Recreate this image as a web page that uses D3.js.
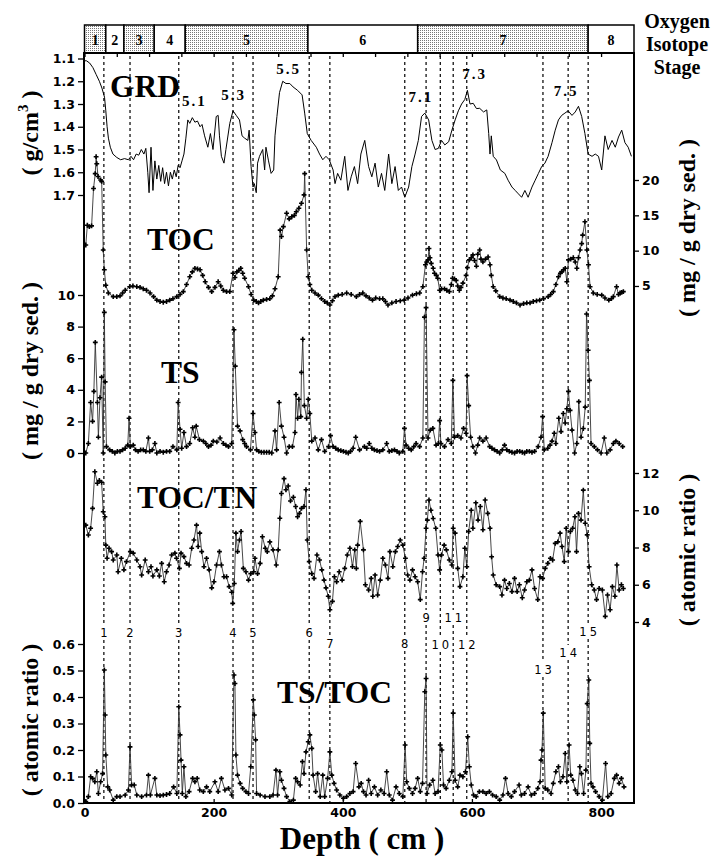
<!DOCTYPE html>
<html>
<head>
<meta charset="utf-8">
<script src="https://cdn.jsdelivr.net/npm/d3@7"></script>
<style>
  body { margin: 0; background: #fff; }
</style>
</head>
<body>
<svg id="chart" width="716" height="856"></svg>
<script>
// oxygen isotope stages (depth boundaries in cm)
const stageNames = ['1', '2', '3', '4', '5', '6', '7', '8'];
const stageBounds = [0, 33, 61, 108, 156, 346, 516, 780, 851];
const stageShaded = [true, false, true, false, true, false, true, false];

// numbered event horizons (dotted lines)
const eventNames = ['1','2','3','4','5','6','7','8','9','10','11','12','13','14','15'];
const eventDepths = [30, 70.5, 146, 230, 261, 348, 380, 496, 529, 551, 571, 592, 710, 749, 780];

// substage labels on the GRD curve: [depth, grd]
const subStageNames = ['5.1', '5.3', '5.5', '7.1', '7.3', '7.5'];
const subStagePos = [[170, 1.309], [231, 1.282], [316, 1.168], [521, 1.291], [604, 1.19], [746, 1.265]];

const xTicks = [0, 200, 400, 600, 800];
const grdTicks = [1.1, 1.2, 1.3, 1.4, 1.5, 1.6, 1.7];
const tocTicks = [5, 10, 15, 20];
const tsTicks = [0, 2, 4, 6, 8, 10];
const tntTicks = [4, 6, 8, 10, 12];
const ratioTicks = [0, 0.1, 0.2, 0.3, 0.4, 0.5, 0.6];

// GRD (g/cm3) : [depth, value]
const grd = [[0,1.11],[3,1.11],[8,1.12],[13,1.14],[18,1.17],[23,1.20],[27,1.23],[31,1.27],[33,1.33],[35,1.40],[37,1.45],[40,1.49],[44,1.52],[50,1.535],[56,1.545],[62,1.54],[68,1.545],[72,1.53],[76,1.545],[80,1.52],[84,1.525],[88,1.50],[92,1.52],[95,1.495],[98,1.60],[100,1.69],[103,1.49],[106,1.68],[109,1.55],[112,1.63],[115,1.57],[118,1.64],[121,1.58],[124,1.65],[127,1.60],[130,1.66],[133,1.60],[136,1.63],[139,1.59],[142,1.62],[145,1.57],[148,1.58],[151,1.55],[154,1.52],[157,1.45],[160,1.37],[163,1.385],[167,1.36],[171,1.38],[175,1.375],[179,1.40],[182,1.39],[186,1.44],[191,1.49],[195,1.43],[199,1.50],[204,1.355],[207,1.35],[209,1.44],[212,1.53],[216,1.56],[219,1.50],[225,1.385],[230,1.33],[235,1.35],[240,1.37],[244,1.44],[248,1.45],[253,1.46],[255,1.415],[258,1.575],[261,1.665],[263,1.65],[266,1.69],[268,1.56],[271,1.53],[276,1.50],[279,1.59],[281,1.49],[285,1.55],[289,1.605],[293,1.59],[295,1.44],[298,1.355],[302,1.25],[307,1.20],[312,1.21],[318,1.21],[323,1.225],[330,1.24],[337,1.26],[341,1.34],[345,1.43],[351,1.46],[359,1.49],[364,1.52],[369,1.545],[374,1.53],[379,1.545],[385,1.59],[388,1.65],[392,1.605],[397,1.635],[403,1.53],[408,1.68],[413,1.62],[418,1.575],[423,1.65],[428,1.52],[434,1.46],[440,1.575],[445,1.62],[450,1.56],[455,1.665],[460,1.605],[465,1.68],[471,1.52],[476,1.65],[481,1.575],[486,1.68],[491,1.665],[496,1.71],[502,1.665],[507,1.575],[512,1.52],[517,1.46],[522,1.355],[527,1.34],[533,1.37],[538,1.46],[543,1.50],[548,1.495],[553,1.46],[558,1.48],[564,1.466],[569,1.415],[574,1.37],[579,1.33],[584,1.30],[589,1.28],[593,1.24],[597,1.30],[602,1.297],[607,1.32],[612,1.319],[618,1.335],[623,1.326],[626,1.43],[628,1.52],[630,1.44],[633,1.53],[638,1.546],[644,1.59],[651,1.605],[656,1.635],[662,1.665],[667,1.68],[672,1.695],[677,1.71],[682,1.68],[687,1.71],[693,1.665],[698,1.635],[703,1.605],[708,1.575],[713,1.56],[718,1.53],[724,1.47],[729,1.415],[734,1.37],[739,1.35],[744,1.34],[749,1.33],[755,1.35],[760,1.335],[765,1.31],[770,1.355],[775,1.43],[780,1.52],[786,1.53],[791,1.52],[796,1.53],[801,1.59],[806,1.44],[811,1.50],[817,1.46],[822,1.49],[827,1.445],[832,1.415],[837,1.47],[842,1.49],[847,1.53]];

// TOC (mg/g dry sed.)
const toc = [[2,10.8],[4.4,13.6],[7.5,13.4],[11,13.5],[14,18.8],[16.6,20.9],[18,23.3],[19,22.3],[21,20.5],[25,20.0],[26.6,19.8],[29,10.1],[30.7,7.3],[33,5.1],[37,4.0],[44.5,3.5],[50,3.5],[55,3.6],[59,4.0],[63,4.4],[70,4.9],[75,5.0],[81,4.9],[86,4.8],[91,4.6],[96,4.4],[101.5,4.0],[107,3.5],[112,3.0],[117,2.8],[122,2.7],[127,2.8],[132,3.0],[137,3.2],[143,3.5],[148,3.8],[153,4.2],[158,5.2],[163,6.3],[167,7.0],[171,7.5],[175,7.4],[179,7.3],[183,6.5],[187,5.6],[192,4.8],[197,4.2],[202,4.8],[207,5.6],[211,5.0],[215,4.4],[220,4.2],[225,4.2],[230,6.8],[233,6.2],[236,7.0],[239,7.2],[242,7.5],[245,6.8],[248,6.1],[254,4.9],[258,3.8],[262,3.0],[266,2.8],[269.5,2.6],[273,2.8],[277,3.0],[282,3.1],[287,3.2],[291,3.6],[295,4.6],[300,6.3],[303,12.9],[305,12.0],[308,13.4],[313,15.3],[317,14.5],[321,14.8],[325,15.0],[328,15.5],[332,16.0],[336,16.7],[340,17.9],[341,20.9],[344,10.1],[346.5,6.3],[349,5.2],[352,4.4],[357,4.0],[362,3.7],[367,3.2],[372,2.8],[376,2.6],[380,2.3],[384,2.9],[388,3.5],[393,3.7],[399,3.8],[406,4.0],[413,3.8],[421,3.5],[426,3.8],[431,4.0],[436,3.6],[441,3.3],[446,3.0],[451,3.3],[457,3.2],[462,3.2],[466,2.8],[470,2.3],[476,2.6],[482.5,2.8],[489,2.9],[495,3.0],[501,3.3],[508,3.7],[514,3.9],[519,4.0],[524,4.9],[528,8.0],[530,8.4],[532,8.7],[533.5,10.3],[535,9.0],[537,8.2],[540,7.5],[542,6.8],[545,6.5],[547,6.1],[550,4.4],[553,4.6],[557.5,4.6],[561,4.4],[565,4.2],[568,5.2],[570,6.1],[573,6.0],[575.5,5.8],[578,5.0],[580.5,4.4],[583,4.8],[586,5.4],[591,6.5],[593,7.6],[596,8.7],[599,9.0],[601.5,9.4],[604,8.6],[607,7.8],[609,9.5],[612,10.1],[614,8.8],[617,8.4],[621,8.8],[625,9.1],[628,8.0],[630,6.5],[633,4.9],[637,4.3],[643,3.5],[648,3.3],[653,3.2],[659,3.0],[664,2.8],[669,2.6],[674.5,2.3],[680,2.5],[685,2.6],[690,2.6],[695,2.8],[700,2.9],[705,3.0],[711,3.2],[718,3.5],[722,3.8],[726,4.2],[730,5.2],[734,6.3],[737,6.8],[739,7.0],[742,7.3],[744.5,7.5],[747,5.6],[749.5,8.7],[753,8.8],[757,9.0],[760,8.4],[762.5,7.5],[765,9.0],[767.5,10.1],[770,11.0],[771.5,12.2],[775,14.1],[778,10.1],[780.5,8.0],[783,4.9],[788,4.0],[794,3.8],[801,3.7],[806,3.3],[812,3.0],[816,3.2],[819,3.5],[824,4.9],[827,3.8],[829.5,4.0],[832,4.1],[834.5,4.2]];

// TS (mg/g dry sed.)
const ts = [[2,0.0],[6,0.6],[9.5,3.2],[12.5,2.0],[14.5,3.9],[16.7,7.0],[20,3.2],[21.5,1.0],[24,3.5],[26.5,4.8],[29,0.0],[30.7,8.9],[32,4.5],[34,0.4],[39,0.2],[43,0.1],[47,0.0],[51,0.1],[55,0.1],[59,0.2],[63,0.3],[67,0.5],[69,2.2],[71,0.4],[75.5,0.5],[79,0.2],[83,0.1],[87,0.2],[91,0.2],[95,0.1],[99,0.95],[101,0.1],[105,0.2],[109,0.6],[112,0.0],[117,0.1],[122,0.05],[127,0.1],[132,0.1],[137,0.4],[143,0.2],[145,3.2],[148,1.5],[150.5,0.3],[154,1.3],[158,0.4],[163,0.6],[167.5,1.6],[171,1.0],[173,1.7],[178,0.85],[184,0.75],[188,0.6],[192,0.4],[196,0.5],[199.5,0.75],[205,0.7],[210,0.95],[215,0.6],[219,0.5],[223,0.4],[228,0.6],[231.5,7.8],[233.5,5.5],[237,1.7],[241,1.4],[245,0.85],[248,0.6],[251,0.4],[257,0.2],[261,2.5],[264,1.3],[266.5,0.2],[270,0.1],[274,0.05],[278,0.05],[282,0.05],[286,0.05],[290,0.0],[295,1.4],[297.5,0.2],[301.5,3.2],[305,1.7],[309,1.0],[313,0.0],[317,0.4],[322,0.4],[326,1.3],[327.5,3.7],[330,2.2],[332,3.4],[335,2.3],[336,5.1],[338,7.2],[340.5,3.0],[344,2.2],[346.5,3.4],[349,2.5],[352,0.75],[357,0.95],[362,0.2],[367,0.85],[372,0.1],[378,0.4],[381,1.1],[385,0.4],[389,0.3],[393,0.2],[397,0.15],[401,0.1],[405,0.05],[408.5,0.0],[412,0.1],[416,0.3],[420,1.0],[426,0.2],[433.5,0.4],[437,0.3],[441,0.6],[445,0.3],[449,0.2],[453,0.15],[457,0.1],[462,0.2],[468,0.6],[472,0.1],[476,0.15],[480,0.2],[484,0.1],[487.5,0.0],[493,0.1],[495.5,1.56],[498,0.5],[502,0.3],[506,0.2],[510,0.4],[513.5,0.6],[519,0.4],[524,0.95],[526.5,8.6],[529,9.2],[532,0.95],[535.5,1.45],[539.5,1.56],[544.5,0.5],[548,0.6],[550,2.05],[552,0.6],[557.5,0.4],[563,0.85],[568,0.6],[570.5,4.6],[573,1.0],[578,1.1],[583,0.95],[587,1.56],[591,1.25],[592.5,4.9],[595,3.0],[598,1.0],[601.5,0.4],[605.5,0.0],[609,0.5],[612,0.95],[617,0.75],[622,0.95],[627.5,0.4],[631,0.3],[635,0.2],[639,0.1],[643,0.0],[647,0.2],[650.5,0.5],[654,0.2],[658,0.1],[662,0.05],[666,0.0],[670,0.1],[674,0.1],[678,0.05],[681.5,0.0],[685,0.1],[689,0.1],[693,0.05],[697,0.1],[702.5,0.4],[707,1.0],[709.5,2.3],[712,0.2],[717.5,0.3],[721,0.5],[724,0.75],[727.5,1.25],[730,0.6],[734.5,2.2],[738,1.35],[741.5,2.5],[744.5,1.9],[747,2.8],[749.5,3.9],[752,2.7],[755,1.45],[759,0.0],[762.5,0.6],[765.5,3.25],[769,1.0],[772.5,1.55],[775.5,2.9],[777.5,8.8],[780,6.5],[782,4.6],[784.5,0.6],[789.5,0.4],[794.5,0.2],[800,0.0],[805,0.95],[809,0.0],[814,0.2],[819,0.6],[823,0.75],[828,0.6],[833.5,0.4]];

// TOC/TN (atomic ratio)
const tocTn = [[2,9.2],[6,8.67],[9.5,9.03],[12.5,10.1],[16,12.07],[20,11.45],[23,11.6],[26.5,11.5],[29,9.92],[31.6,9.65],[33,8.13],[35,7.42],[38,7.96],[42,7.78],[44.5,7.33],[50,7.6],[52,6.7],[57,7.42],[61,6.8],[65,7.24],[71,7.78],[75.5,7.7],[81,7.33],[86,6.97],[88.5,6.52],[94,7.33],[99,6.7],[103,6.97],[106,6.47],[112,6.8],[116,6.47],[119.5,7.15],[123.5,6.16],[127,6.7],[131,7.06],[135,7.6],[140,7.7],[142.5,7.42],[147,6.88],[149.5,7.7],[154,7.51],[158,7.15],[162,7.06],[166,7.96],[169.5,8.4],[173.5,9.2],[176,8.05],[178.5,8.77],[181.5,7.78],[185,6.97],[189,7.42],[193,6.8],[197,5.83],[200.5,6.16],[204.5,7.06],[209,7.78],[212,7.06],[216,6.43],[220,6.43],[224,5.9],[228,5.6],[229.5,5.0],[232,6.07],[234.5,8.77],[237,7.78],[240,8.4],[242.5,8.86],[246,6.88],[250,6.7],[254,6.25],[257.5,6.6],[262,6.7],[264,7.42],[268,6.6],[272,7.15],[275.5,8.58],[280,7.96],[283,7.78],[287,8.3],[292,7.87],[297,7.06],[300,7.87],[302.5,9.57],[305,10.9],[309,11.7],[312,11.1],[315.5,11.3],[319,10.5],[323.5,10.7],[327,10.2],[330,9.65],[333,9.83],[336,10.1],[340,10.2],[343,11.1],[345,8.4],[348,7.24],[352,6.6],[355.5,6.34],[360,7.6],[364,7.33],[367.5,6.8],[371,6.25],[374,5.83],[377.5,5.38],[380,4.66],[384,5.11],[387,6.43],[390.5,6.16],[394.5,6.7],[399,6.25],[403,6.88],[407,7.6],[411,7.96],[415,6.97],[418.5,7.87],[421,6.88],[423,8.13],[427,9.4],[432,7.87],[435,6.0],[440,5.72],[444,6.34],[446.5,5.38],[450,6.52],[454,5.45],[458,6.25],[462,7.42],[466,7.06],[470,6.34],[473,7.78],[477.5,6.97],[481.5,7.78],[485,8.05],[489,8.4],[493,8.13],[497,7.42],[500.5,6.52],[504,6.25],[508,6.8],[512,6.43],[516,6.16],[520,5.2],[523.5,6.7],[526,7.42],[529,9.03],[531,9.47],[533.5,10.55],[536.5,10.0],[540,9.56],[544,9.03],[547.5,7.6],[550,6.8],[553,7.6],[557,8.13],[560.5,7.87],[565,7.33],[569,7.06],[571,9.03],[574,8.77],[578,6.88],[581.5,5.9],[586,6.43],[589,7.96],[592,6.97],[595,8.86],[599,10.0],[601.5,9.03],[606,10.4],[609.5,9.47],[613,10.2],[617,8.95],[620.5,10.55],[624.5,9.83],[628,9.03],[630.5,7.5],[633,6.52],[637.5,6.0],[643,5.9],[646.5,5.45],[650.5,6.25],[654,5.8],[658,6.07],[662,5.63],[666,6.34],[670,5.63],[673.5,6.0],[678,5.3],[681.5,5.72],[685,6.16],[689,6.25],[693,6.8],[697,5.8],[702,5.2],[705.5,6.43],[709.5,6.34],[713.5,6.88],[717.5,7.15],[721.5,7.42],[725,7.33],[729,8.22],[733,8.3],[736.5,8.77],[739.5,8.05],[743,7.24],[746,9.03],[749.5,7.78],[752.5,8.86],[756,9.03],[759.5,9.65],[762,7.78],[765,9.83],[769,9.47],[772.5,11.08],[775.5,9.3],[778.5,8.68],[781.5,6.97],[785.5,6.0],[789.5,5.72],[793,5.2],[797,5.8],[802,5.72],[806.5,4.3],[810,5.45],[814,4.66],[817.5,5.9],[821.5,5.38],[824.5,7.06],[828,5.72],[831.5,6.0],[834.5,5.8]];

// TS/TOC (atomic ratio)
const tsToc = [[2,0.005],[6,0.024],[9.5,0.099],[12.5,0.093],[16,0.080],[19,0.118],[21.5,0.036],[25,0.080],[28,0.111],[30.7,0.502],[32,0.332],[33,0.181],[36,0.061],[39,0.049],[44.5,0.011],[50,0.024],[55,0.024],[63,0.030],[68,0.049],[70.5,0.212],[73,0.068],[77,0.068],[81,0.030],[88.5,0.024],[96,0.030],[99,0.105],[102,0.030],[109,0.093],[112,0.030],[117,0.028],[122,0.030],[127,0.032],[132,0.036],[138,0.061],[143,0.036],[146,0.363],[148,0.257],[149.5,0.162],[151.5,0.036],[154,0.137],[157,0.024],[162,0.043],[167.5,0.093],[171,0.080],[174.5,0.093],[178.5,0.049],[184,0.043],[189,0.061],[194,0.043],[202,0.080],[207,0.043],[212,0.093],[217.5,0.049],[223,0.055],[228,0.030],[231.5,0.483],[233,0.451],[234.5,0.181],[237,0.105],[241,0.074],[245,0.055],[250,0.043],[254,0.036],[257.5,0.137],[261.5,0.389],[263,0.332],[265,0.238],[266.5,0.036],[272,0.030],[279.5,0.024],[287,0.024],[292,0.030],[296.5,0.124],[299,0.030],[302.5,0.118],[305,0.086],[309,0.055],[313,0.024],[318,0.005],[323.5,0.011],[327,0.093],[330,0.080],[334,0.068],[337.5,0.156],[340,0.111],[343,0.193],[346.5,0.231],[349,0.257],[352,0.206],[354,0.105],[358,0.043],[361,0.111],[365,0.024],[369,0.105],[372,0.024],[376.5,0.093],[380,0.193],[383,0.105],[386.5,0.074],[390.5,0.049],[395.5,0.030],[401,0.018],[406,0.024],[411,0.036],[416,0.043],[420,0.149],[425,0.061],[428.5,0.074],[432,0.043],[436,0.030],[440,0.086],[444,0.036],[449,0.061],[454,0.030],[459,0.049],[464,0.036],[468,0.118],[472,0.030],[477,0.011],[482.5,0.061],[487.5,0.036],[493,0.024],[496.5,0.219],[499,0.080],[503,0.055],[508,0.036],[512,0.055],[516,0.093],[520,0.043],[523.5,0.074],[527,0.420],[529,0.470],[530.5,0.036],[534.5,0.068],[539.5,0.086],[543,0.036],[547.5,0.043],[551,0.219],[553.5,0.200],[556,0.068],[560,0.055],[565,0.086],[569,0.118],[571,0.339],[574,0.086],[578,0.061],[581.5,0.105],[586,0.099],[590,0.118],[593.5,0.250],[596,0.137],[599,0.068],[602.5,0.030],[606.5,0.024],[611.5,0.043],[617,0.043],[622,0.036],[627,0.043],[632,0.030],[637.5,0.024],[643,0.011],[648,0.030],[652,0.093],[656,0.036],[661,0.024],[666,0.043],[673,0.068],[676.5,0.030],[681.5,0.036],[687,0.061],[692,0.030],[697,0.036],[702,0.055],[705.5,0.080],[707,0.162],[708.5,0.200],[710.5,0.339],[713.5,0.055],[717.5,0.049],[722.5,0.036],[726,0.074],[730,0.118],[734,0.137],[737,0.080],[741,0.099],[744.5,0.187],[747,0.080],[750.5,0.219],[753,0.105],[756.5,0.086],[760,0.049],[763.5,0.036],[767,0.137],[769.5,0.111],[773,0.036],[776.5,0.124],[778.5,0.375],[781,0.464],[782.5,0.225],[784.5,0.074],[787.5,0.061],[791.5,0.043],[797,0.024],[802,0.011],[807,0.149],[810.5,0.024],[815.5,0.036],[820.5,0.093],[824,0.105],[828,0.074],[831.5,0.093],[835.5,0.061]];

const svg = d3.select('#chart');
const serif = '"Liberation Serif", "Times New Roman", serif';
const sans = '"DejaVu Sans", Arial, sans-serif';

const plotLeft = 84, plotRight = 634, plotTop = 53, plotBottom = 803;
const x = d3.scaleLinear().domain([0, 851]).range([84.5, 634]);
const yGrd = d3.scaleLinear().domain([1.1, 1.7]).range([58.5, 195]);
const yToc = d3.scaleLinear().domain([0, 20]).range([321.3, 180]);
const yTs = d3.scaleLinear().domain([0, 10]).range([453, 295]);
const yTn = d3.scaleLinear().domain([4, 12]).range([622, 473]);
const yRatio = d3.scaleLinear().domain([0, 0.6]).range([803, 644]);

// stipple pattern for the shaded stages
const pat = svg.append('defs').append('pattern')
  .attr('id', 'stipple').attr('width', 2).attr('height', 2)
  .attr('patternUnits', 'userSpaceOnUse');
pat.append('rect').attr('width', 2).attr('height', 2).attr('fill', '#fff');
pat.append('rect').attr('width', 1).attr('height', 1).attr('fill', '#777');

// stage bar
const stages = stageNames.map((n, i) => ({ name: n, x0: stageBounds[i], x1: stageBounds[i + 1], shaded: stageShaded[i] }));
const sg = svg.append('g');
sg.selectAll('rect').data(stages).join('rect')
  .attr('x', d => x(d.x0)).attr('width', d => x(d.x1) - x(d.x0))
  .attr('y', 25).attr('height', plotTop - 25)
  .attr('fill', d => d.shaded ? 'url(#stipple)' : '#fff')
  .attr('stroke', '#000').attr('stroke-width', 1.5);
sg.selectAll('text').data(stages).join('text')
  .attr('x', d => (x(d.x0) + x(d.x1)) / 2).attr('y', 45)
  .attr('text-anchor', 'middle')
  .attr('font-family', serif).attr('font-weight', 'bold').attr('font-size', 14)
  .text(d => d.name);

const ois = svg.append('text').attr('text-anchor', 'middle')
  .attr('font-family', serif).attr('font-weight', 'bold').attr('font-size', 20);
['Oxygen', 'Isotope', 'Stage'].forEach((t, i) => {
  ois.append('tspan').attr('x', 677).attr('y', 28 + i * 23).text(t);
});

// event lines with their numbers
const labelBase = [637, 637, 637, 637, 637, 637, 648, 648, 622, 649, 622, 649, 674, 657, 636];
const ev = eventDepths.map((d, i) => ({ d, name: eventNames[i], base: labelBase[i] }));
const eg = svg.append('g')
  .attr('stroke', '#000').attr('stroke-width', 1.2).attr('stroke-dasharray', '3,3');
eg.selectAll('line.a').data(ev).join('line').attr('class', 'a')
  .attr('x1', d => x(d.d)).attr('x2', d => x(d.d))
  .attr('y1', 56).attr('y2', d => d.base - 12);
eg.selectAll('line.b').data(ev).join('line').attr('class', 'b')
  .attr('x1', d => x(d.d)).attr('x2', d => x(d.d))
  .attr('y1', d => d.base + 3).attr('y2', plotBottom);
svg.append('g').selectAll('text').data(ev).join('text')
  .attr('x', d => x(d.d) + (d.name.length > 1 ? 1.5 : 0)).attr('y', d => d.base)
  .attr('text-anchor', 'middle')
  .attr('font-family', sans).attr('font-size', 11.5)
  .attr('letter-spacing', d => d.name.length > 1 ? 3 : 0)
  .text(d => d.name);

// substage labels
svg.append('g').selectAll('text').data(subStageNames).join('text')
  .attr('x', (d, i) => x(subStagePos[i][0])).attr('y', (d, i) => yGrd(subStagePos[i][1]))
  .attr('text-anchor', 'middle')
  .attr('font-family', serif).attr('font-weight', 'bold').attr('font-size', 15)
  .attr('letter-spacing', 2)
  .text(d => d);

// series
function drawSeries(data, y, markers) {
  const line = d3.line().x(d => x(d[0])).y(d => y(d[1]));
  svg.append('path').datum(data)
    .attr('d', line).attr('fill', 'none')
    .attr('stroke', markers ? '#333' : '#000')
    .attr('stroke-width', markers ? 0.9 : 1)
    .attr('stroke-linejoin', 'round');
  if (markers) {
    svg.append('g').selectAll('path').data(data).join('path')
      .attr('transform', d => `translate(${x(d[0])},${y(d[1])})`)
      .attr('d', d3.symbol().type(d3.symbolCross).size(13))
      .attr('fill', '#000');
  }
}
drawSeries(grd, yGrd, false);
drawSeries(toc, yToc, true);
drawSeries(ts, yTs, true);
drawSeries(tocTn, yTn, true);
drawSeries(tsToc, yRatio, true);

// frame
svg.append('rect')
  .attr('x', plotLeft).attr('y', plotTop)
  .attr('width', plotRight - plotLeft).attr('height', plotBottom - plotTop)
  .attr('fill', 'none').attr('stroke', '#000').attr('stroke-width', 2);

// axes
function styleAxis(g) {
  g.select('.domain').remove();
  g.selectAll('line').attr('stroke', '#000').attr('stroke-width', 1.3);
  g.selectAll('text').attr('font-family', sans).attr('font-weight', 'bold')
    .attr('font-size', 12.5).attr('fill', '#000');
}
function leftAxis(scale, ticks, fmt) {
  svg.append('g').attr('transform', `translate(${plotLeft},0)`)
    .call(d3.axisLeft(scale).tickValues(ticks).tickFormat(fmt).tickSize(6).tickPadding(3))
    .call(styleAxis);
}
function rightAxis(scale, ticks, fmt) {
  svg.append('g').attr('transform', `translate(${plotRight},0)`)
    .call(d3.axisRight(scale).tickValues(ticks).tickFormat(fmt).tickSize(5).tickPadding(3))
    .call(styleAxis);
}
leftAxis(yGrd, grdTicks, d3.format('.1f'));
rightAxis(yToc, tocTicks, d3.format('d'));
leftAxis(yTs, tsTicks, d3.format('d'));
rightAxis(yTn, tntTicks, d3.format('d'));
leftAxis(yRatio, ratioTicks, d3.format('.1f'));

svg.append('g').attr('transform', `translate(0,${plotBottom})`)
  .call(d3.axisBottom(x).tickValues(xTicks).tickFormat(d3.format('d')).tickSize(-4).tickPadding(5))
  .call(styleAxis);
svg.append('g').attr('transform', `translate(0,${plotTop})`)
  .call(d3.axisTop(x).tickValues(d3.range(0, 851, 50)).tickFormat('').tickSize(-4))
  .call(styleAxis);

// panel names
const panelNames = [['GRD', 110, 97], ['TOC', 147, 250], ['TS', 161, 383], ['TOC/TN', 137, 508], ['TS/TOC', 277, 703]];
svg.append('g').selectAll('text').data(panelNames).join('text')
  .attr('x', d => d[1]).attr('y', d => d[2])
  .attr('font-family', serif).attr('font-weight', 'bold').attr('font-size', 31.5)
  .text(d => d[0]);

// axis titles
function vTitle(xPos, yCenter, size, build) {
  const t = svg.append('text')
    .attr('transform', `translate(${xPos},${yCenter}) rotate(-90)`)
    .attr('text-anchor', 'middle')
    .attr('font-family', serif).attr('font-weight', 'bold').attr('font-size', size);
  build(t);
}
vTitle(38, 133, 24, t => {
  t.append('tspan').text('( g/cm');
  t.append('tspan').attr('font-size', 15).attr('dy', -10).text('3');
  t.append('tspan').attr('dy', 10).text(' )');
});
vTitle(38, 371, 24, t => t.text('( mg / g dry sed. )'));
vTitle(38, 720, 24, t => t.text('( atomic ratio )'));
vTitle(695, 228, 24, t => t.text('( mg / g dry sed. )'));
vTitle(695, 550, 24, t => t.text('( atomic ratio )'));

svg.append('text').attr('x', 362).attr('y', 849).attr('text-anchor', 'middle')
  .attr('font-family', serif).attr('font-weight', 'bold').attr('font-size', 31)
  .text('Depth ( cm )');
</script>
</body>
</html>
